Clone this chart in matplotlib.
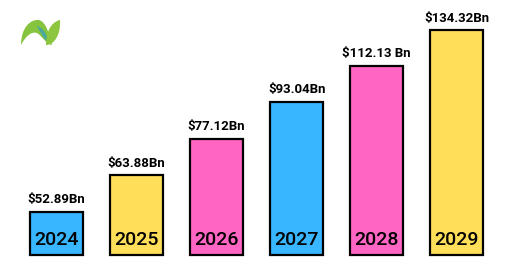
import matplotlib
matplotlib.use("Agg")
import matplotlib.pyplot as plt
from matplotlib.path import Path
from matplotlib.patches import PathPatch

# data
years = ["2024", "2025", "2026", "2027", "2028", "2029"]
values = [52.89, 63.88, 77.12, 93.04, 112.13, 134.32]
value_labels = ["$52.89Bn", "$63.88Bn", "$77.12Bn", "$93.04Bn", "$112.13 Bn", "$134.32Bn"]
colors = ["#38B6FF", "#FFDE59", "#FF66C4", "#38B6FF", "#FF66C4", "#FFDE59"]

# the original bars grow in equal steps -> log scale, bars start at a floor
base = 42.4

fig = plt.figure(figsize=(5.12, 2.6), dpi=100)
ax = fig.add_axes([0, 0, 1, 1])
ax.set_yscale("log")
x = list(range(len(years)))
ax.bar(x, [v - base for v in values], bottom=base, width=0.66,
       color=colors, edgecolor="black", linewidth=1.6)

for i, v in enumerate(values):
    ax.text(i, v * 1.03, value_labels[i], ha="center", va="bottom",
            fontsize=9.5, fontweight="bold", family="Roboto")
    ax.text(i, 45.8, years[i], ha="center", va="center",
            fontsize=14, fontweight="medium", family="Roboto")

ax.set_xlim(-0.706, 5.69)
ax.set_ylim(41.37, 157.0)
ax.axis("off")

# logo, drawn in pixel coords
lg = fig.add_axes([0, 0, 1, 1], facecolor="none")
lg.set_xlim(0, 512)
lg.set_ylim(260, 0)
lg.axis("off")
C = Path.CURVE4
arch = Path([(21, 45), (21, 27), (31, 19), (39, 20),
             (46, 22), (49, 33), (52, 45),
             (46, 44), (43, 37), (37, 33),
             (31, 31), (25, 37), (21, 45)],
            [Path.MOVETO, C, C, C, C, C, C, C, C, C, C, C, C])
mid = Path([(37, 26), (44, 28), (47, 36), (51, 44),
            (45, 42), (42, 35), (37, 26)],
           [Path.MOVETO, C, C, C, C, C, C])
leaf = Path([(46, 45), (54, 45), (61, 35), (60, 20),
             (51, 22), (46, 32), (46, 45)],
            [Path.MOVETO, C, C, C, C, C, C])
lg.add_patch(PathPatch(arch, facecolor="#86C440", edgecolor="none"))
lg.add_patch(PathPatch(mid, facecolor="#4AA89E", edgecolor="none"))
lg.add_patch(PathPatch(leaf, facecolor="#8CC63F", edgecolor="none"))

fig.savefig("out.png", dpi=100)
